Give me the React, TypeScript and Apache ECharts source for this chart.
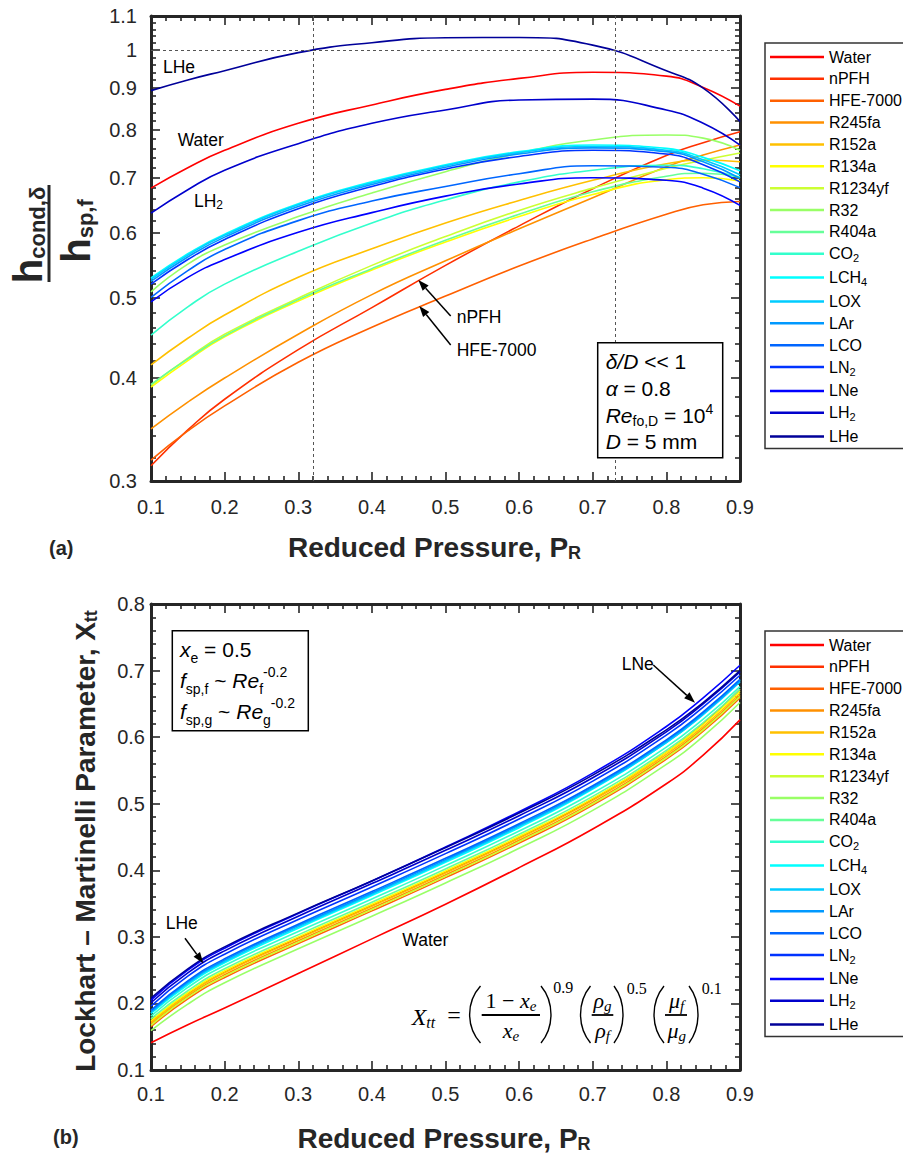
import React, { useEffect, useRef } from 'react';
import * as echarts from 'echarts';

const FONT = '"Liberation Sans", Arial, Helvetica, sans-serif';
const SERIF = '"Liberation Serif", "Times New Roman", serif';
const INK = '#262626';

// Reduced pressure sample points (shared by both panels)
const PR = [0.1, 0.15, 0.2, 0.3, 0.4, 0.5, 0.6, 0.7, 0.8, 0.85, 0.9];

const FLUIDS = ['Water', 'nPFH', 'HFE-7000', 'R245fa', 'R152a', 'R134a', 'R1234yf', 'R32', 'R404a', 'CO2', 'LCH4', 'LOX', 'LAr', 'LCO', 'LN2', 'LNe', 'LH2', 'LHe'];
const COLORS = ['#ff0000', '#ff3000', '#ff6000', '#ff9000', '#ffc000', '#ffff00', '#ccff33', '#99ff66', '#66ff99', '#33ffcc', '#00ffff', '#00ccff', '#0099ff', '#0066ff', '#0033ff', '#0000ff', '#0000cc', '#000099'];
const LEGEND_LABELS: Record<string, string> = {
  CO2: '{n|CO}{s|2}',
  LCH4: '{n|LCH}{s|4}',
  LN2: '{n|LN}{s|2}',
  LH2: '{n|LH}{s|2}',
};

// (a) h_cond,delta / h_sp,f
const H_WATER = [0.68, 0.72, 0.756, 0.815, 0.858, 0.896, 0.924, 0.94, 0.93, 0.901, 0.855];
const H_NPFH = [0.313, 0.346, 0.377, 0.433, 0.487, 0.548, 0.612, 0.679, 0.745, 0.772, 0.796];
const H_HFE7000 = [0.318, 0.345, 0.37, 0.418, 0.461, 0.503, 0.547, 0.59, 0.632, 0.649, 0.655];
const H_R245FA = [0.347, 0.374, 0.4, 0.452, 0.505, 0.555, 0.607, 0.662, 0.722, 0.746, 0.767];
const H_R152A = [0.415, 0.447, 0.477, 0.53, 0.574, 0.617, 0.657, 0.695, 0.728, 0.735, 0.732];
const H_R134A = [0.39, 0.42, 0.449, 0.496, 0.541, 0.585, 0.628, 0.668, 0.696, 0.7, 0.694];
const H_R1234YF = [0.392, 0.423, 0.452, 0.5, 0.548, 0.594, 0.639, 0.68, 0.719, 0.735, 0.75];
const H_R32 = [0.509, 0.55, 0.58, 0.628, 0.671, 0.712, 0.75, 0.778, 0.789, 0.782, 0.756];
const H_R404A = [0.393, 0.422, 0.45, 0.498, 0.543, 0.588, 0.632, 0.673, 0.703, 0.709, 0.702];
const H_CO2 = [0.451, 0.488, 0.52, 0.57, 0.617, 0.658, 0.692, 0.715, 0.725, 0.718, 0.7];
const H_LCH4 = [0.529, 0.566, 0.598, 0.651, 0.692, 0.726, 0.753, 0.767, 0.76, 0.741, 0.714];
const H_LOX = [0.527, 0.564, 0.596, 0.649, 0.69, 0.724, 0.751, 0.764, 0.756, 0.736, 0.706];
const H_LAR = [0.524, 0.561, 0.593, 0.646, 0.687, 0.721, 0.748, 0.761, 0.753, 0.732, 0.699];
const H_LCO = [0.501, 0.54, 0.573, 0.621, 0.656, 0.683, 0.708, 0.724, 0.721, 0.707, 0.681];
const H_LN2 = [0.52, 0.557, 0.589, 0.642, 0.683, 0.717, 0.743, 0.756, 0.748, 0.726, 0.692];
const H_LNE = [0.495, 0.53, 0.557, 0.601, 0.635, 0.665, 0.688, 0.7, 0.695, 0.68, 0.648];
const H_LH2 = [0.634, 0.677, 0.715, 0.77, 0.815, 0.846, 0.87, 0.872, 0.846, 0.815, 0.767];
const H_LHE = [0.893, 0.92, 0.944, 0.993, 1.021, 1.035, 1.036, 1.014, 0.944, 0.899, 0.819];
const H_RATIO = [H_WATER, H_NPFH, H_HFE7000, H_R245FA, H_R152A, H_R134A, H_R1234YF, H_R32, H_R404A, H_CO2, H_LCH4, H_LOX, H_LAR, H_LCO, H_LN2, H_LNE, H_LH2, H_LHE];

// (b) Lockhart-Martinelli parameter X_tt
const X_WATER = [0.141, 0.168, 0.193, 0.245, 0.297, 0.349, 0.404, 0.462, 0.53, 0.573, 0.626];
const X_NPFH = [0.172, 0.214, 0.247, 0.298, 0.347, 0.397, 0.449, 0.507, 0.577, 0.62, 0.672];
const X_HFE7000 = [0.165, 0.207, 0.239, 0.29, 0.339, 0.389, 0.441, 0.498, 0.567, 0.609, 0.659];
const X_R245FA = [0.169, 0.211, 0.243, 0.294, 0.343, 0.393, 0.445, 0.502, 0.571, 0.613, 0.663];
const X_R152A = [0.171, 0.213, 0.246, 0.297, 0.346, 0.396, 0.448, 0.505, 0.574, 0.616, 0.666];
const X_R134A = [0.174, 0.216, 0.249, 0.3, 0.349, 0.399, 0.451, 0.508, 0.577, 0.619, 0.669];
const X_R1234YF = [0.167, 0.209, 0.241, 0.292, 0.341, 0.391, 0.443, 0.5, 0.569, 0.611, 0.661];
const X_R32 = [0.159, 0.199, 0.231, 0.282, 0.331, 0.381, 0.433, 0.49, 0.559, 0.601, 0.652];
const X_R404A = [0.177, 0.219, 0.252, 0.303, 0.352, 0.402, 0.454, 0.511, 0.58, 0.622, 0.672];
const X_CO2 = [0.181, 0.224, 0.257, 0.308, 0.357, 0.407, 0.459, 0.516, 0.585, 0.627, 0.676];
const X_LCH4 = [0.185, 0.228, 0.261, 0.313, 0.362, 0.412, 0.464, 0.522, 0.592, 0.635, 0.686];
const X_LOX = [0.186, 0.23, 0.263, 0.315, 0.364, 0.414, 0.466, 0.523, 0.592, 0.634, 0.683];
const X_LAR = [0.188, 0.232, 0.265, 0.317, 0.366, 0.416, 0.468, 0.525, 0.594, 0.636, 0.685];
const X_LCO = [0.19, 0.234, 0.267, 0.319, 0.368, 0.418, 0.47, 0.527, 0.596, 0.638, 0.687];
const X_LN2 = [0.196, 0.241, 0.274, 0.326, 0.375, 0.425, 0.477, 0.534, 0.603, 0.645, 0.693];
const X_LNE = [0.205, 0.25, 0.283, 0.335, 0.384, 0.435, 0.488, 0.546, 0.616, 0.659, 0.708];
const X_LH2 = [0.201, 0.246, 0.279, 0.331, 0.38, 0.43, 0.482, 0.539, 0.608, 0.65, 0.698];
const X_LHE = [0.208, 0.252, 0.285, 0.336, 0.384, 0.434, 0.486, 0.543, 0.611, 0.652, 0.7];
const XTT = [X_WATER, X_NPFH, X_HFE7000, X_R245FA, X_R152A, X_R134A, X_R1234YF, X_R32, X_R404A, X_CO2, X_LCH4, X_LOX, X_LAR, X_LCO, X_LN2, X_LNE, X_LH2, X_LHE];

// axis ticks
const H_MAJOR = [0.3, 0.4, 0.5, 0.6, 0.7, 0.8, 0.9, 1, 1.1];
const H_MINOR = [0.32, 0.34, 0.36, 0.38, 0.42, 0.44, 0.46, 0.48, 0.52, 0.54, 0.56, 0.58, 0.62, 0.64, 0.66, 0.68, 0.72, 0.74, 0.76, 0.78, 0.82, 0.84, 0.86, 0.88, 0.92, 0.94, 0.96, 0.98, 1.02, 1.04, 1.06, 1.08];

// reference guides in panel (a)
const GUIDE_PR = [0.318, 0.73];
const GUIDE_RATIO = 1;

const tickStyle = { color: INK, width: 1.6 };
const lineAxis = { show: true, onZero: false, lineStyle: { color: INK, width: 3 } };

function xAxisDef(grid: number, pos: string, labels: boolean, margin: number) {
  return {
    gridIndex: grid, type: 'value', position: pos, min: 0.1, max: 0.9, interval: 0.1,
    axisLine: lineAxis,
    axisTick: { show: true, inside: true, length: 9, lineStyle: tickStyle },
    minorTick: { show: true, splitNumber: 5, length: 5, lineStyle: tickStyle },
    axisLabel: { show: labels, margin, fontSize: 20, color: INK, fontFamily: FONT, showMinLabel: true, showMaxLabel: true, formatter: (v: number) => v.toFixed(1) },
    splitLine: { show: false }, minorSplitLine: { show: false },
  };
}

function logAxisDef(pos: string, values: number[], len: number, labels: boolean, line: boolean) {
  return {
    gridIndex: 0, type: 'log', logBase: 10, position: pos, min: 0.3, max: 1.1,
    axisLine: line ? lineAxis : { show: false, onZero: false },
    axisTick: { show: true, inside: true, length: len, customValues: values, lineStyle: tickStyle },
    axisLabel: { show: labels, customValues: values, margin: 14, fontSize: 20, color: INK, fontFamily: FONT, formatter: (v: number) => String(+v.toFixed(2)) },
    splitLine: { show: false }, minorTick: { show: false },
  };
}

function linAxisDef(pos: string, labels: boolean) {
  return {
    gridIndex: 1, type: 'value', position: pos, min: 0.1, max: 0.8, interval: 0.1,
    axisLine: lineAxis,
    axisTick: { show: true, inside: true, length: 9, lineStyle: tickStyle },
    minorTick: { show: true, splitNumber: 5, length: 5, lineStyle: tickStyle },
    axisLabel: { show: labels, margin: 6, fontSize: 20, color: INK, fontFamily: FONT, showMinLabel: true, showMaxLabel: true, formatter: (v: number) => v.toFixed(1) },
    splitLine: { show: false }, minorSplitLine: { show: false },
  };
}

function txt(x: number, y: number, text: string, extra: any = {}, elExtra: any = {}) {
  const align = extra.align || 'left';
  const va = extra.verticalAlign || 'middle';
  return {
    type: 'text', x, y, z: 100, ...elExtra,
    style: { text, fontFamily: FONT, fontSize: 17.5, fill: '#000', align, verticalAlign: va, textAlign: align, textVerticalAlign: va, ...extra },
  };
}

function arrow(x1: number, y1: number, x2: number, y2: number) {
  const dx = x2 - x1, dy = y2 - y1, L = Math.hypot(dx, dy), ux = dx / L, uy = dy / L;
  const hl = 11, hw = 4;
  const bx = x2 - ux * hl, by = y2 - uy * hl;
  return [
    { type: 'line', z: 100, shape: { x1, y1, x2: bx, y2: by }, style: { stroke: '#000', lineWidth: 1.5 } },
    { type: 'polygon', z: 100, shape: { points: [[x2, y2], [bx - uy * hw, by + ux * hw], [bx + uy * hw, by - ux * hw]] }, style: { fill: '#000' } },
  ];
}

function paren(xEnd: number, cx: number, y1: number, y2: number) {
  return { type: 'bezierCurve', z: 100, shape: { x1: xEnd, y1, x2: xEnd, y2, cpx1: cx, cpy1: y1 + 16, cpx2: cx, cpy2: y2 - 16 }, style: { stroke: '#000', lineWidth: 1.4, fill: 'none' } };
}

function bar(x1: number, x2: number, y: number) {
  return { type: 'line', z: 100, shape: { x1, y1: y, x2, y2: y }, style: { stroke: '#000', lineWidth: 1.8 } };
}

const serifRich = {
  n: { fontFamily: SERIF, fontSize: 22, lineHeight: 26 },
  i: { fontFamily: SERIF, fontSize: 22, fontStyle: 'italic', lineHeight: 26 },
  sub: { fontFamily: SERIF, fontSize: 15, fontStyle: 'italic', lineHeight: 15, verticalAlign: 'bottom' },
};

function buildGraphic() {
  const boxRichTop = {
    n: { fontFamily: FONT, fontSize: 21, lineHeight: 26.7 },
    i: { fontFamily: FONT, fontSize: 21, fontStyle: 'italic', lineHeight: 26.7 },
    sub: { fontFamily: FONT, fontSize: 14, lineHeight: 14, verticalAlign: 'bottom' },
    sup: { fontFamily: FONT, fontSize: 14, lineHeight: 16, verticalAlign: 'top' },
  };
  const boxRichBot = {
    n: { fontFamily: FONT, fontSize: 21, lineHeight: 31.2 },
    i: { fontFamily: FONT, fontSize: 21, fontStyle: 'italic', lineHeight: 31.2 },
    sub: { fontFamily: FONT, fontSize: 14, lineHeight: 14, verticalAlign: 'bottom' },
    sup: { fontFamily: FONT, fontSize: 14, lineHeight: 22, verticalAlign: 'top' },
  };
  const titleRich = {
    m: { fontFamily: FONT, fontSize: 28, fontWeight: 'bold', lineHeight: 30, fill: INK },
    s: { fontFamily: FONT, fontSize: 18, fontWeight: 'bold', lineHeight: 18, verticalAlign: 'bottom', fill: INK },
  };
  const fracRich = {
    h: { fontFamily: FONT, fontSize: 40, fontWeight: 'bold', lineHeight: 40, fill: INK },
    s: { fontFamily: FONT, fontSize: 22, fontWeight: 'bold', lineHeight: 24, verticalAlign: 'bottom', fill: INK },
  };
  const annRich = {
    n: { fontFamily: FONT, fontSize: 17.5, lineHeight: 20 },
    s: { fontFamily: FONT, fontSize: 12, lineHeight: 12, verticalAlign: 'bottom' },
  };
  return [
    // panel (a) annotations
    txt(163, 67, 'LHe'),
    txt(177.7, 139.5, 'Water'),
    txt(194, 201, '{n|LH}{s|2}', { rich: annRich }),
    txt(456.7, 317.3, 'nPFH'),
    txt(456.7, 350, 'HFE-7000'),
    ...arrow(450.7, 316, 418.3, 280),
    ...arrow(450.7, 345, 419.3, 306),
    { type: 'rect', z: 99, shape: { x: 597.7, y: 342.7, width: 125, height: 115 }, style: { fill: '#fff', stroke: '#000', lineWidth: 1.5 } },
    txt(605.7, 348.3, '{i|δ/D}{n| << 1}\n{i|α}{n| = 0.8}\n{i|Re}{sub|fo,D}{n| = 10}{sup|4}\n{i|D}{n| = 5 mm}', { rich: boxRichTop, verticalAlign: 'top', fontSize: 21 }),
    // panel (a) axis titles
    txt(28, 235, '{h|h}{s|cond,δ}', { rich: fracRich, align: 'center' }, { rotation: Math.PI / 2 }),
    { type: 'line', z: 100, shape: { x1: 49, y1: 185, x2: 49, y2: 282 }, style: { stroke: INK, lineWidth: 3 } },
    txt(76, 231, '{h|h}{s|sp,f}', { rich: fracRich, align: 'center' }, { rotation: Math.PI / 2 }),
    txt(434.5, 547, '{m|Reduced Pressure, P}{s|R}', { rich: titleRich, align: 'center' }),
    txt(49, 548, '(a)', { fontSize: 20, fontWeight: 'bold', fill: INK }),

    // panel (b) annotations
    txt(621.7, 664, 'LNe'),
    ...arrow(653.3, 665, 695, 702.7),
    txt(165.7, 923, 'LHe'),
    ...arrow(185, 938.3, 203.3, 963.3),
    txt(402.3, 939.5, 'Water'),
    { type: 'rect', z: 99, shape: { x: 172.3, y: 630.7, width: 136, height: 100 }, style: { fill: '#fff', stroke: '#000', lineWidth: 1.5 } },
    txt(180, 633.7, '{i|x}{sub|e}{n| = 0.5}\n{i|f}{sub|sp,f}{n| ~ }{i|Re}{sub|f}{sup|-0.2}\n{i|f}{sub|sp,g}{n| ~ }{i|Re}{sub|g}{sup|-0.2}', { rich: boxRichBot, verticalAlign: 'top', fontSize: 21 }),
    // formula
    txt(411.7, 1016.7, '{i|X}{sub|tt}', { rich: { i: { ...serifRich.i, fontSize: 24, lineHeight: 28 }, sub: { ...serifRich.sub, fontSize: 16, lineHeight: 16 } } }),
    txt(454, 1015, '=', { fontFamily: SERIF, fontSize: 24, align: 'center' }),
    paren(480.5, 466, 986, 1043),
    paren(541, 554.3, 986, 1043),
    txt(511, 1000, '{n|1 − }{i|x}{sub|e}', { rich: serifRich, align: 'center' }),
    bar(481.7, 540, 1015),
    txt(511, 1030, '{i|x}{sub|e}', { rich: serifRich, align: 'center' }),
    txt(563.3, 987.7, '0.9', { fontFamily: SERIF, fontSize: 16, align: 'center' }),
    paren(590.5, 577.2, 986, 1043),
    paren(614, 626, 986, 1043),
    txt(602.5, 1000, '{i|ρ}{sub|g}', { rich: serifRich, align: 'center' }),
    bar(591.7, 613.3, 1015),
    txt(602.5, 1030, '{i|ρ}{sub|f}', { rich: serifRich, align: 'center' }),
    txt(636.7, 988, '0.5', { fontFamily: SERIF, fontSize: 16, align: 'center' }),
    paren(664, 650.7, 986, 1043),
    paren(689, 701, 986, 1043),
    txt(676.7, 1000, '{i|μ}{sub|f}', { rich: serifRich, align: 'center' }),
    bar(665, 687, 1015),
    txt(676.7, 1030, '{i|μ}{sub|g}', { rich: serifRich, align: 'center' }),
    txt(711.7, 988, '0.1', { fontFamily: SERIF, fontSize: 16, align: 'center' }),
    // panel (b) axis titles
    txt(85, 841, '{m|Lockhart – Martinelli Parameter, X}{s|tt}', { rich: titleRich, align: 'center' }, { rotation: Math.PI / 2 }),
    txt(444, 1138, '{m|Reduced Pressure, P}{s|R}', { rich: titleRich, align: 'center' }),
    txt(53, 1137, '(b)', { fontSize: 20, fontWeight: 'bold', fill: INK }),
  ];
}

function legendDef(top: number) {
  return {
    data: FLUIDS,
    orient: 'vertical',
    left: 765,
    top,
    padding: [6, 5, 4, 5],
    itemGap: 5.86,
    itemWidth: 54,
    itemHeight: 2.5,
    icon: 'rect',
    selectedMode: false,
    borderColor: '#333',
    borderWidth: 1.5,
    backgroundColor: '#fff',
    formatter: (name: string) => LEGEND_LABELS[name] ?? `{n|${name}}`,
    textStyle: {
      fontFamily: FONT, fontSize: 16, color: '#000',
      rich: {
        n: { fontFamily: FONT, fontSize: 16, lineHeight: 20, color: '#000' },
        s: { fontFamily: FONT, fontSize: 11, lineHeight: 12, verticalAlign: 'bottom', color: '#000' },
      },
    },
  };
}

function buildOption() {
  const series: any[] = [];
  FLUIDS.forEach((name, i) => {
    series.push({
      name, type: 'line', xAxisIndex: 0, yAxisIndex: 0, smooth: true, symbol: 'none', z: 3,
      data: PR.map((x, k) => [x, H_RATIO[i][k]]),
      lineStyle: { color: COLORS[i], width: 1.6 }, itemStyle: { color: COLORS[i] },
    });
  });
  FLUIDS.forEach((name, i) => {
    series.push({
      name, type: 'line', xAxisIndex: 2, yAxisIndex: 4, smooth: true, symbol: 'none', z: 3,
      data: PR.map((x, k) => [x, XTT[i][k]]),
      lineStyle: { color: COLORS[i], width: 1.6 }, itemStyle: { color: COLORS[i] },
    });
  });
  series.push({
    name: 'guides', type: 'line', xAxisIndex: 0, yAxisIndex: 0, data: [], z: 2,
    markLine: {
      silent: true, symbol: 'none', label: { show: false },
      lineStyle: { color: '#555', width: 1, type: [3, 3] },
      data: [...GUIDE_PR.map((v) => ({ xAxis: v })), { yAxis: GUIDE_RATIO }],
    },
  });
  return {
    animation: false,
    backgroundColor: '#fff',
    textStyle: { fontFamily: FONT },
    grid: [
      { left: 151, top: 16, width: 589, height: 465 },
      { left: 151, top: 604, width: 589, height: 466 },
    ],
    xAxis: [
      xAxisDef(0, 'bottom', true, 16),
      xAxisDef(0, 'top', false, 8),
      xAxisDef(1, 'bottom', true, 14),
      xAxisDef(1, 'top', false, 8),
    ],
    yAxis: [
      logAxisDef('left', H_MAJOR, 9, true, true),
      logAxisDef('left', H_MINOR, 5, false, false),
      logAxisDef('right', H_MAJOR, 9, false, true),
      logAxisDef('right', H_MINOR, 5, false, false),
      linAxisDef('left', true),
      linAxisDef('right', false),
    ],
    legend: [legendDef(43), legendDef(631)],
    series,
    graphic: { elements: buildGraphic() },
  };
}

export default function App() {
  const ref = useRef<HTMLDivElement>(null);
  useEffect(() => {
    const el = ref.current;
    if (!el) return;
    const chart = echarts.init(el, null, { renderer: 'svg', width: 903, height: 1155 });
    chart.setOption(buildOption() as any);
    return () => chart.dispose();
  }, []);
  return <div ref={ref} style={{ position: 'absolute', left: 0, top: 0, width: 903, height: 1155, background: '#fff' }} />;
}
